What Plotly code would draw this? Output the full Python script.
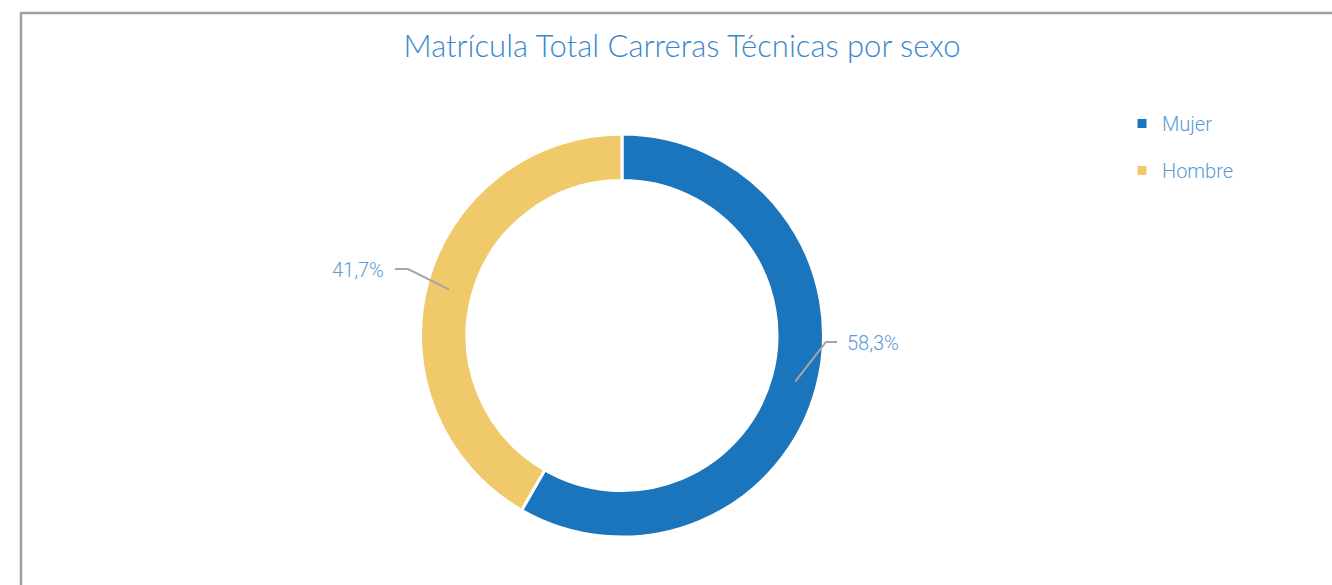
import math
import plotly.graph_objects as go

categories = ["Mujer", "Hombre"]
values = [58.3, 41.7]
value_labels = ["58,3%", "41,7%"]
colors = ["#1b75bc", "#f0c96b"]

W, H = 1332, 585
CX, CY = 622, 335.5       # donut centre (px)
R_OUT, R_IN = 201.5, 155  # radii (px)

NARROW = "Roboto, sans-serif"


def px(x):
    return x / W


def py(y):
    return 1 - y / H


fig = go.Figure()
fig.add_trace(go.Pie(
    labels=categories,
    values=values,
    hole=R_IN / R_OUT,
    sort=False,
    direction="clockwise",
    rotation=0,
    marker=dict(colors=colors, line=dict(color="white", width=3)),
    textinfo="none",
    hoverinfo="label+percent",
    showlegend=False,
    domain=dict(x=[px(CX - R_OUT), px(CX + R_OUT)], y=[py(CY + R_OUT), py(CY - R_OUT)]),
))

# legend via dummy markers
for i, (c, col) in enumerate(zip(categories, colors)):
    fig.add_trace(go.Scatter(
        x=[None], y=[None], mode="markers", name=c,
        marker=dict(symbol="square", size=9, color=col),
        legendgroup=c, showlegend=True,
    ))

# leader-line label anchors (style positions, px): elbow, end, text side
label_layout = [
    dict(elbow=(826, 342), end=(837, 342), text_x=845, anchor="left"),
    dict(elbow=(408, 269), end=(395, 269), text_x=386, anchor="right"),
]

total = sum(values)
start = 90.0
shapes = []
annotations = []
for v, lab, lay in zip(values, value_labels, label_layout):
    frac = v / total
    mid = math.radians(start - frac * 360 / 2)
    start -= frac * 360
    rm = (R_OUT + R_IN) / 2 + 1
    sx = CX + rm * math.cos(mid)
    sy = CY - rm * math.sin(mid)
    ex, ey = lay["elbow"]
    tx, ty = lay["end"]
    shapes.append(dict(
        type="path", xref="paper", yref="paper",
        path=f"M {px(sx)} {py(sy)} L {px(ex)} {py(ey)} L {px(tx)} {py(ty)}",
        line=dict(color="#a6a6a6", width=2),
    ))
    annotations.append(dict(
        x=px(lay["text_x"]), y=py(ty + 1), xref="paper", yref="paper",
        text=lab, showarrow=False, xanchor=lay["anchor"], yanchor="middle",
        font=dict(family=NARROW, size=20, color="#5b9bd5", weight=300),
    ))

# outer frame
shapes.append(dict(
    type="rect", xref="paper", yref="paper",
    x0=px(21), y0=py(13), x1=1.02, y1=-0.02,
    line=dict(color="#a0a0a0", width=2.5), fillcolor="rgba(0,0,0,0)", layer="below",
))

fig.update_layout(
    width=W, height=H,
    margin=dict(l=0, r=0, t=0, b=0),
    paper_bgcolor="white", plot_bgcolor="white",
    title=dict(
        text="Matrícula Total Carreras Técnicas por sexo",
        x=px(682), xanchor="center", y=py(46), yanchor="middle",
        font=dict(family="Lato, Open Sans, sans-serif", size=31, color="#3a87cc", weight=300),
    ),
    xaxis=dict(visible=False), yaxis=dict(visible=False),
    legend=dict(
        x=px(1122), y=py(104), xanchor="left", yanchor="top",
        font=dict(family=NARROW, size=20, color="#5b9bd5", weight=300),
        tracegroupgap=18, itemwidth=30, bgcolor="rgba(0,0,0,0)",
    ),
    shapes=shapes,
    annotations=annotations,
)

fig.write_html(
    "out.html",
    config={"displayModeBar": False},
    post_script="document.body.style.margin='0';document.body.style.overflow='hidden';",
)
